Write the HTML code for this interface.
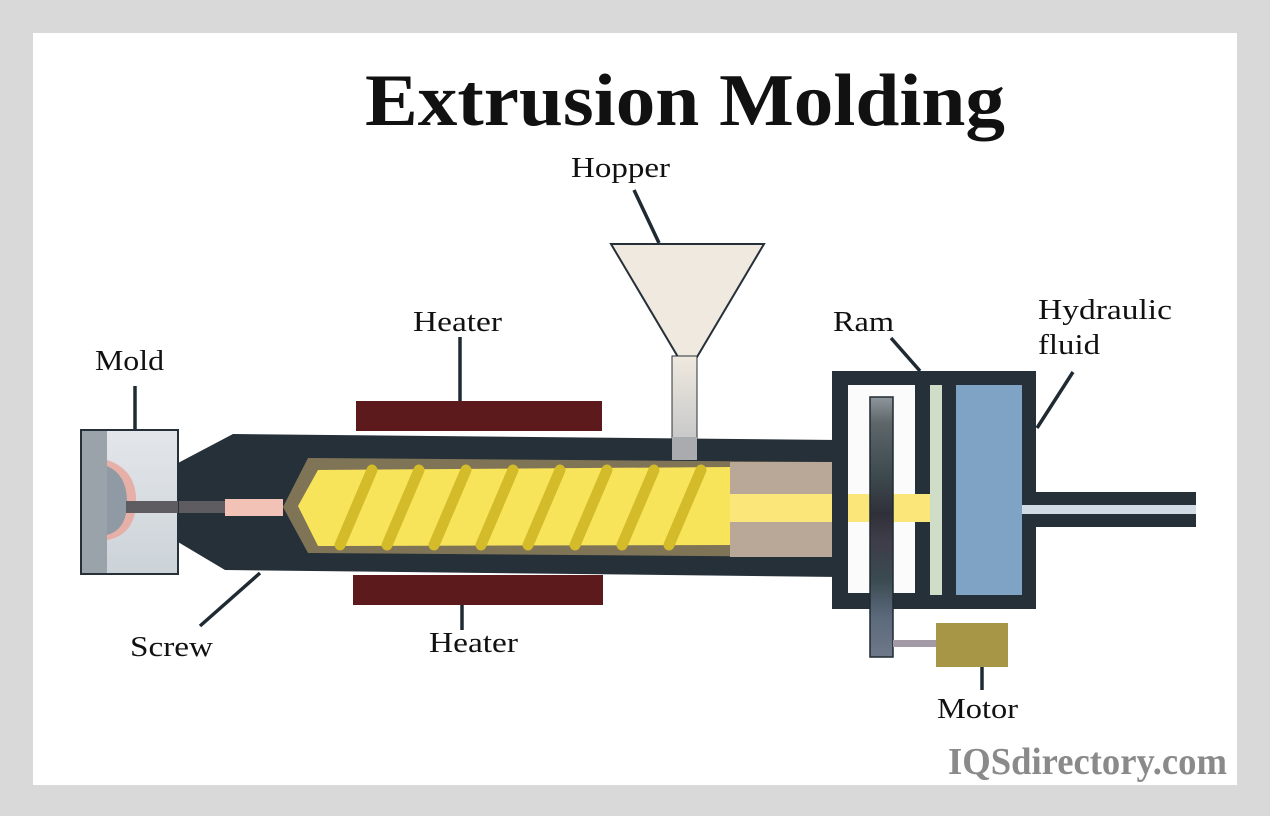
<!DOCTYPE html>
<html><head><meta charset="utf-8"><style>
html,body{margin:0;padding:0;background:#d9d9d9}
svg{display:block}
text{font-family:"Liberation Serif","DejaVu Serif",serif}
</style></head><body>
<svg width="1270" height="816" viewBox="0 0 1270 816" xmlns="http://www.w3.org/2000/svg">
<defs>
<linearGradient id="stem" x1="0" y1="0" x2="0" y2="1"><stop offset="0" stop-color="#efe9df"/><stop offset="1" stop-color="#c9c9c9"/></linearGradient>
<linearGradient id="bar" x1="0" y1="0" x2="0" y2="1">
<stop offset="0" stop-color="#8e979c"/><stop offset="0.1" stop-color="#5e666a"/><stop offset="0.3" stop-color="#3d4a4e"/><stop offset="0.45" stop-color="#30303a"/><stop offset="0.55" stop-color="#3e3c48"/><stop offset="0.7" stop-color="#3a4a50"/><stop offset="0.85" stop-color="#5c6a7c"/><stop offset="1" stop-color="#6e7888"/></linearGradient>
<linearGradient id="mold" x1="0" y1="0" x2="0" y2="1"><stop offset="0" stop-color="#e3e6ea"/><stop offset="1" stop-color="#ccd3d8"/></linearGradient>
</defs>
<rect x="0" y="0" width="1270" height="816" fill="#d9d9d9"/>
<rect x="33" y="33" width="1204" height="752" fill="#ffffff"/>
<text x="685" y="125" text-anchor="middle" font-size="74" font-weight="bold" fill="#111" textLength="640" lengthAdjust="spacingAndGlyphs">Extrusion Molding</text>

<g stroke="#1f2a33" stroke-width="3.5" fill="none">
<line x1="634" y1="190" x2="659" y2="243"/>
<line x1="460" y1="337" x2="460" y2="401"/>
<line x1="135" y1="386" x2="135" y2="430"/>
<line x1="891" y1="338" x2="920" y2="371"/>
<line x1="1073" y1="372" x2="1037" y2="428"/>
<line x1="200" y1="626" x2="260" y2="573"/>
<line x1="462" y1="605" x2="462" y2="630"/>
<line x1="982" y1="667" x2="982" y2="690"/>
</g>

<rect x="356" y="401" width="246" height="30" fill="#5c1a1d"/>
<rect x="353" y="575" width="250" height="30" fill="#5c1a1d"/>

<polygon points="178,463 233,434 840,440 840,577 225,570 178,542" fill="#253039"/>
<polygon points="283,507 308,458 835,462 835,557 308,553" fill="#807457"/>
<rect x="730" y="462" width="105" height="95" fill="#b9a898"/>
<polygon points="298,506 318,470 730,467 730,545 318,546" fill="#f8e45a"/>
<rect x="730" y="494" width="200" height="28" fill="#fbe67a"/>
<g stroke="#d4bb2a" stroke-width="11" stroke-linecap="round">
<line x1="340" y1="545" x2="372" y2="470"/>
<line x1="387" y1="545" x2="419" y2="470"/>
<line x1="434" y1="545" x2="466" y2="470"/>
<line x1="481" y1="545" x2="513" y2="470"/>
<line x1="528" y1="545" x2="560" y2="470"/>
<line x1="575" y1="545" x2="607" y2="470"/>
<line x1="622" y1="545" x2="654" y2="470"/>
<line x1="669" y1="545" x2="701" y2="470"/>
</g>
<rect x="130" y="501" width="96" height="12" fill="#5e5c60"/>
<rect x="225" y="499" width="58" height="17" fill="#f2c2b6"/>

<rect x="81" y="430" width="97" height="144" fill="url(#mold)" stroke="#253039" stroke-width="2"/>
<rect x="82" y="431" width="25" height="142" fill="#9aa2aa"/>
<path d="M107,460 Q138,470 136,505 Q134,535 107,540 Z" fill="#e6b0a8"/>
<path d="M107,466 Q128,475 127,505 Q126,530 107,535 Z" fill="#8f9aa4"/>
<rect x="126" y="501" width="52" height="12" fill="#5e5c60"/>

<polygon points="611,244 764,244 697,357 678,357" fill="#efe9df" stroke="#253039" stroke-width="2"/>
<rect x="672" y="356" width="25" height="82" fill="url(#stem)" stroke="#253039" stroke-width="1"/>
<rect x="672" y="437" width="25" height="23" fill="#a9abaf"/>

<rect x="832" y="371" width="204" height="238" fill="#253039"/>
<rect x="848" y="385" width="67" height="208" fill="#fbfbfb"/>
<rect x="930" y="385" width="12" height="210" fill="#cfdcc8"/>
<rect x="956" y="385" width="66" height="210" fill="#7fa3c5"/>
<rect x="848" y="494" width="82" height="28" fill="#fbe67a"/>
<rect x="1030" y="492" width="166" height="35" fill="#253039"/>
<rect x="1022" y="505" width="174" height="9" fill="#d0dbe5"/>
<rect x="870" y="397" width="23" height="260" fill="url(#bar)" stroke="#1f2a33" stroke-width="1.5"/>
<rect x="893" y="640" width="44" height="7" fill="#a29aa4"/>
<rect x="936" y="623" width="72" height="44" fill="#a79645"/>

<g font-size="29" fill="#111" lengthAdjust="spacingAndGlyphs">
<text x="571" y="177" textLength="99" lengthAdjust="spacingAndGlyphs">Hopper</text>
<text x="413" y="331" textLength="89" lengthAdjust="spacingAndGlyphs">Heater</text>
<text x="95" y="370" textLength="69" lengthAdjust="spacingAndGlyphs">Mold</text>
<text x="833" y="331" textLength="61" lengthAdjust="spacingAndGlyphs">Ram</text>
<text x="1038" y="319" textLength="134" lengthAdjust="spacingAndGlyphs">Hydraulic</text>
<text x="1038" y="354" textLength="62" lengthAdjust="spacingAndGlyphs">fluid</text>
<text x="130" y="656" textLength="83" lengthAdjust="spacingAndGlyphs">Screw</text>
<text x="429" y="652" textLength="89" lengthAdjust="spacingAndGlyphs">Heater</text>
<text x="937" y="718" textLength="81" lengthAdjust="spacingAndGlyphs">Motor</text>
</g>
<text x="1227" y="774" text-anchor="end" font-size="38" font-weight="bold" fill="#8a8a8a" textLength="279" lengthAdjust="spacingAndGlyphs">IQSdirectory.com</text>
</svg>
</body></html>
